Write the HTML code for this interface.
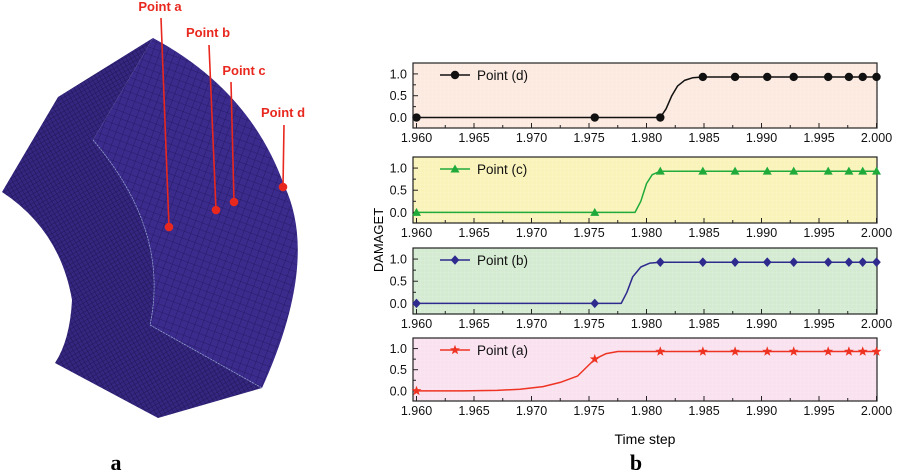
<!DOCTYPE html>
<html><head><meta charset="utf-8"><style>
html,body{margin:0;padding:0;background:#fff;width:906px;height:475px;overflow:hidden}
svg{display:block}
text{font-family:"Liberation Sans",sans-serif}
</style></head><body>
<svg id="fig" width="906" height="475" viewBox="0 0 906 475">
<defs>
<pattern id="mesh" width="7" height="7" patternUnits="userSpaceOnUse" patternTransform="rotate(20)">
<rect width="7" height="7" fill="#3b2b8c"/>
<path d="M0 0H7M0 0V7" stroke="#221660" stroke-width="0.8"/>
</pattern>
<pattern id="mesh2" width="4" height="4" patternUnits="userSpaceOnUse" patternTransform="rotate(-30)">
<rect width="4" height="4" fill="#35267f"/>
<path d="M0 0H4M0 0V4" stroke="#1c124f" stroke-width="0.8"/>
</pattern>
<pattern id="gridp" width="4" height="4" patternUnits="userSpaceOnUse">
<path d="M0 0H4M0 0V4" stroke="#ffffff" stroke-opacity="0.35" stroke-width="0.6"/>
</pattern>
</defs>
<g>
<path d="M153 38 L58 97 L2 192 Q60 230 72 300 Q70 340 55 363 L158 418 L262 388 L150 325 Q170 230 93 140 Z" fill="url(#mesh2)"/>
<path d="M153 38 L93 140 Q170 230 150 325 L262 388 Q320 260 284 185 Q250 90 153 38 Z" fill="url(#mesh)"/>
<path d="M93 140 Q170 230 150 325" fill="none" stroke="#8fa0d0" stroke-width="0.8" stroke-dasharray="2 1"/>
<path d="M150 325 L262 388" fill="none" stroke="#8fa0d0" stroke-width="0.8" stroke-dasharray="2 1"/>
</g>
<g fill="#e8281e" stroke="#e8281e" stroke-width="1.6">
<line x1="161" y1="18" x2="169" y2="227"/><circle cx="169" cy="227" r="3.5"/>
<line x1="209" y1="45" x2="216" y2="210"/><circle cx="216" cy="210" r="3.5"/>
<line x1="231" y1="82" x2="234" y2="202"/><circle cx="234" cy="202" r="3.5"/>
<line x1="284" y1="125" x2="283" y2="187"/><circle cx="283" cy="187" r="3.5"/>
</g>
<g font-weight="bold" font-size="13" fill="#e8281e">
<text x="160" y="11" text-anchor="middle">Point a</text>
<text x="208" y="37" text-anchor="middle">Point b</text>
<text x="244" y="75" text-anchor="middle">Point c</text>
<text x="283" y="117" text-anchor="middle">Point d</text>
</g>
<text x="116" y="470" text-anchor="middle" font-weight="bold" font-size="22" style="font-family:'Liberation Serif',serif">a</text>
<text x="636" y="470" text-anchor="middle" font-weight="bold" font-size="22" style="font-family:'Liberation Serif',serif">b</text>
<text transform="translate(383,240) rotate(-90)" text-anchor="middle" font-size="13">DAMAGET</text>
<text x="645" y="444" text-anchor="middle" font-size="14">Time step</text>
<g id="charts"></g>
</svg>
<script>
const xTicks=[1.960,1.965,1.970,1.975,1.980,1.985,1.990,1.995,2.000];
const xTickLabels=["1.960","1.965","1.970","1.975","1.980","1.985","1.990","1.995","2.000"];
const yTicks=[0,0.5,1.0];
const yTickLabels=["0.0","0.5","1.0"];
const markerX=[1.960,1.9755,1.9812,1.9849,1.9877,1.9905,1.9928,1.9958,1.9976,1.9988,2.000];
const seriesNames=["Point (d)","Point (c)","Point (b)","Point (a)"];
const valuesD=[0,0,0,0.93,0.93,0.93,0.93,0.93,0.93,0.93,0.93];
const valuesC=[0,0,0.93,0.93,0.93,0.93,0.93,0.93,0.93,0.93,0.93];
const valuesB=[0,0,0.93,0.93,0.93,0.93,0.93,0.93,0.93,0.93,0.93];
const valuesA=[0,0.75,0.93,0.93,0.93,0.93,0.93,0.93,0.93,0.93,0.93];
const curveXD=[1.960,1.9812,1.9817,1.9822,1.9827,1.9833,1.984,1.9849,2.000];
const curveYD=[0,0,0.2,0.5,0.72,0.85,0.91,0.93,0.93];
const curveXC=[1.960,1.9790,1.9795,1.9800,1.9805,1.9812,2.000];
const curveYC=[0,0,0.25,0.65,0.85,0.93,0.93];
const curveXB=[1.960,1.9778,1.9783,1.9788,1.9795,1.9803,1.9812,2.000];
const curveYB=[0,0,0.25,0.6,0.82,0.91,0.93,0.93];
const curveXA=[1.960,1.964,1.967,1.969,1.971,1.9725,1.974,1.9755,1.9765,1.9775,1.9812,2.000];
const curveYA=[0,0,0.01,0.04,0.1,0.2,0.35,0.75,0.88,0.93,0.93,0.93];
const panels=[
 {name:"d",top:63,bot:128,bg:"#fce9df",col:"#111111",mk:"circle",vals:valuesD,cx:curveXD,cy:curveYD},
 {name:"c",top:157,bot:223,bg:"#faf3b9",col:"#1faa3a",mk:"triangle",vals:valuesC,cx:curveXC,cy:curveYC},
 {name:"b",top:248,bot:314,bg:"#d4ebd2",col:"#2e2a8e",mk:"diamond",vals:valuesB,cx:curveXB,cy:curveYB},
 {name:"a",top:338,bot:401,bg:"#f9e1ef",col:"#ee3322",mk:"star",vals:valuesA,cx:curveXA,cy:curveYA}
];
const NS="http://www.w3.org/2000/svg";
const root=document.getElementById("charts");
const L=413,R=877;
function xs(v){return 416.5+(v-1.96)*(876.5-416.5)/0.04;}
function mkEl(t,a,p){const e=document.createElementNS(NS,t);for(const k in a)e.setAttribute(k,a[k]);p.appendChild(e);return e;}
function marker(type,x,y,col,g){
 let e;
 if(type==="circle")e=mkEl("circle",{cx:x,cy:y,r:4.2,fill:col},g);
 else if(type==="triangle")e=mkEl("polygon",{points:`${x},${y-4.5} ${x-4.5},${y+3.5} ${x+4.5},${y+3.5}`,fill:col},g);
 else if(type==="diamond")e=mkEl("polygon",{points:`${x},${y-4.8} ${x+4.3},${y} ${x},${y+4.8} ${x-4.3},${y}`,fill:col},g);
 else{let p=[];for(let i=0;i<10;i++){const r=i%2?2.2:5.2,a=-Math.PI/2+i*Math.PI/5;p.push((x+r*Math.cos(a)).toFixed(1)+","+(y+r*Math.sin(a)).toFixed(1));}
  e=mkEl("polygon",{points:p.join(" "),fill:col},g);}
 return e;
}
panels.forEach((P,pi)=>{
 const ymin=-0.24,ymax=1.25;
 const ys=v=>P.bot-(v-ymin)/(ymax-ymin)*(P.bot-P.top);
 const g=mkEl("g",{},root);
 
 
 const bg=mkEl("rect",{x:L,y:P.top,width:R-L,height:P.bot-P.top,fill:P.bg},g);
 
 
 mkEl("rect",{x:L,y:P.top,width:R-L,height:P.bot-P.top,fill:"url(#gridp)"},g);
 xTicks.forEach((t,i)=>{
  const x=xs(t);
  mkEl("line",{x1:x,x2:x,y1:P.bot,y2:P.bot-5,stroke:"#222","stroke-width":1},g);
  if(i<xTicks.length-1){const xm=xs(t+0.0025);mkEl("line",{x1:xm,x2:xm,y1:P.bot,y2:P.bot-3,stroke:"#222","stroke-width":1},g);}
  const tx=mkEl("text",{x:x,y:P.bot+14,"text-anchor":"middle","font-size":"12.5",fill:"#111"},g);
  
  
  tx.textContent=xTickLabels[i];
 });
 yTicks.forEach((t,i)=>{
  const y=ys(t);
  mkEl("line",{x1:L,x2:L+5,y1:y,y2:y,stroke:"#222","stroke-width":1},g);
  if(i<yTicks.length-1){const ym=ys(t+0.25);mkEl("line",{x1:L,x2:L+3,y1:ym,y2:ym,stroke:"#222","stroke-width":1},g);}
  const tx=mkEl("text",{x:L-6,y:y+4.5,"text-anchor":"end","font-size":"12.5",fill:"#111"},g);
  
  
  tx.textContent=yTickLabels[i];
 });
 mkEl("rect",{x:L,y:P.top,width:R-L,height:P.bot-P.top,fill:"none",stroke:"#222","stroke-width":1.2},g);
 let d="";
 P.cx.forEach((v,i)=>{d+=(i?"L":"M")+xs(v).toFixed(1)+" "+ys(P.cy[i]).toFixed(1);});
 const ln=mkEl("path",{d:d,fill:"none",stroke:P.col,"stroke-width":1.5,"stroke-linejoin":"round"},g);
 
 
 markerX.forEach((v,i)=>{
  const m=marker(P.mk,xs(v),ys(P.vals[i]),P.col,g);
  
  
 });
 const ly=P.top+12;
 const lg=mkEl("g",{},g);
 
 
 mkEl("line",{x1:440,x2:470,y1:ly,y2:ly,stroke:P.col,"stroke-width":1.5},lg);
 marker(P.mk,455,ly,P.col,lg);
 const lt=mkEl("text",{x:477,y:ly+5,"font-size":"13.5",fill:"#111"},lg);
 lt.textContent=seriesNames[pi];
});
</script>
</body></html>
